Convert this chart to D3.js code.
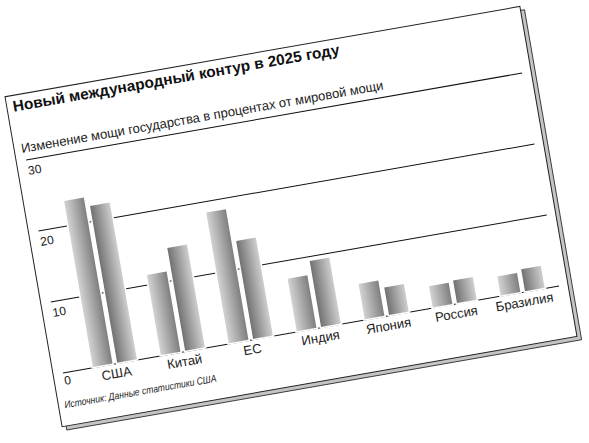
<!DOCTYPE html>
<html><head><meta charset="utf-8">
<script src="https://cdn.jsdelivr.net/npm/d3@7"></script>
<style>body{margin:0;background:#fff}svg{display:block}text{font-family:"Liberation Sans",Arial,sans-serif}</style>
</head><body>
<svg id="c" width="589" height="443"></svg>
<script>
const title = "Новый международный контур в 2025 году";
const subtitle = "Изменение мощи государства в процентах от мировой мощи";
const source = "Источник: Данные статистики США";
const categories = ["США","Китай","ЕС","Индия","Япония","Россия","Бразилия"];
const seriesA = [23.6, 11.5, 18.6, 7.6, 5.2, 3.2, 2.9];
const seriesB = [22.3, 14.7, 14.0, 9.5, 4.1, 3.4, 3.3];
const ticks = [0, 10, 20, 30];

const svg = d3.select("#c");
const defs = svg.append("defs");
const gA = defs.append("linearGradient").attr("id","gA");
gA.append("stop").attr("offset","0%").attr("stop-color","#d6d6d6");
gA.append("stop").attr("offset","100%").attr("stop-color","#7c7c7c");
const gB = defs.append("linearGradient").attr("id","gB");
gB.append("stop").attr("offset","0%").attr("stop-color","#6e6e6e");
gB.append("stop").attr("offset","100%").attr("stop-color","#d2d2d2");

const g = svg.append("g").attr("transform","matrix(0.992,-0.174,0.173,1,-1.5,0)");

// card with shadow
g.append("rect").attr("x",-6).attr("y",99).attr("width",519).attr("height",330)
  .attr("fill","#c4c4c4").attr("stroke","#222").attr("stroke-width",0.8);
g.append("rect").attr("x",-10).attr("y",95).attr("width",519).attr("height",330)
  .attr("fill","#fff").attr("stroke","#222").attr("stroke-width",1);

const x = d3.scaleBand().domain(categories).range([29.4, 486.4]).paddingInner(0.33).paddingOuter(0);
const x1 = d3.scaleBand().domain(["A","B"]).range([0, x.bandwidth()]).paddingInner(0.13);
const y = d3.scaleLinear().domain([0,30]).range([373, 160]);

// gridlines
g.selectAll("line.grid").data(ticks).join("line")
  .attr("x1",0).attr("x2",500).attr("y1",d=>y(d)).attr("y2",d=>y(d))
  .attr("stroke","#111").attr("stroke-width",1);
g.selectAll("text.tick").data(ticks).join("text")
  .attr("x",0).attr("y",d=>y(d)+ (d===0?12:15)).attr("font-size",12).attr("fill","#222").text(d=>d);

// bars
const rows = categories.map((c,i)=>({c, a:seriesA[i], b:seriesB[i]}));
const grp = g.selectAll("g.cat").data(rows).join("g").attr("transform",d=>`translate(${x(d.c)},0)`);
grp.append("rect").attr("x",x1("A")).attr("width",x1.bandwidth())
  .attr("y",d=>y(d.a)).attr("height",d=>y(0)-y(d.a)).attr("fill","url(#gA)")
  .attr("stroke","#fff").attr("stroke-width",1.5);
grp.append("rect").attr("x",x1("B")).attr("width",x1.bandwidth())
  .attr("y",d=>y(d.b)).attr("height",d=>y(0)-y(d.b)).attr("fill","url(#gB)")
  .attr("stroke","#fff").attr("stroke-width",1.5);
grp.append("text").attr("x",x.bandwidth()/2).attr("y",y(0)+14).attr("text-anchor","middle")
  .attr("font-size",13).attr("fill","#222").text(d=>d.c);

// titles
g.append("text").attr("x",-4).attr("y",111).attr("font-size",15).attr("font-weight","bold")
  .attr("fill","#111").attr("textLength",329).attr("lengthAdjust","spacingAndGlyphs").text(title);
g.append("text").attr("x",-3).attr("y",152.5).attr("font-size",13).attr("fill","#222")
  .attr("textLength",365).attr("lengthAdjust","spacingAndGlyphs").text(subtitle);
g.append("text").attr("x",-4).attr("y",407.5).attr("font-size",10).attr("font-style","italic")
  .attr("fill","#222").attr("textLength",153).attr("lengthAdjust","spacingAndGlyphs").text(source);
</script>
</body></html>
